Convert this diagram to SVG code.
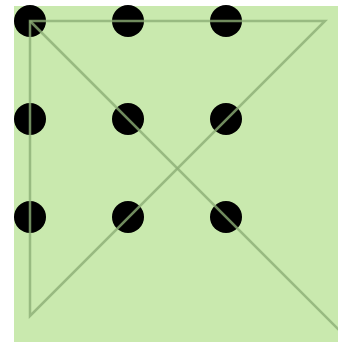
<svg xmlns="http://www.w3.org/2000/svg" width="338" height="342" viewBox="0 0 338 342">
<style>
.dot{fill:#000}
.ln{fill:none;stroke:#8cae76;stroke-opacity:0.8;stroke-width:2.5;stroke-linejoin:miter}
</style>
<rect x="0" y="0" width="338" height="342" fill="#ffffff"/>
<rect x="14" y="6" width="324" height="336" fill="#c9e9ae"/>
<g id="d11"><circle class="dot" cx="30" cy="21" r="16"/></g>
<g id="d12"><circle class="dot" cx="128" cy="21" r="16"/></g>
<g id="d13"><circle class="dot" cx="226" cy="21" r="16"/></g>
<g id="d21"><circle class="dot" cx="30" cy="119" r="16"/></g>
<g id="d22"><circle class="dot" cx="128" cy="119" r="16"/></g>
<g id="d23"><circle class="dot" cx="226" cy="119" r="16"/></g>
<g id="d31"><circle class="dot" cx="30" cy="217" r="16"/></g>
<g id="d32"><circle class="dot" cx="128" cy="217" r="16"/></g>
<g id="d33"><circle class="dot" cx="226" cy="217" r="16"/></g>
<g id="connectors">
<path class="ln" d="M30,21 L325,21 L30,316 Z"/>
<path class="ln" d="M30,21 L345,336"/>
</g>
</svg>
